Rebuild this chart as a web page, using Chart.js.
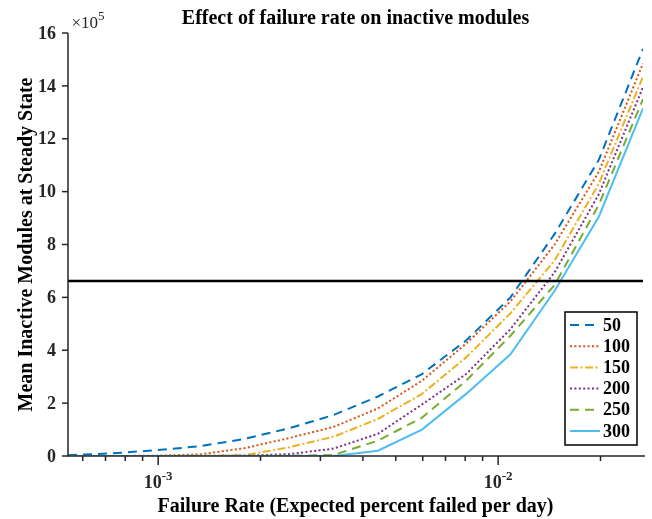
<!DOCTYPE html>
<html>
<head>
<meta charset="utf-8">
<script src="https://cdn.jsdelivr.net/npm/chart.js@4.4.1/dist/chart.umd.min.js"></script>
<style>
  html, body { margin: 0; padding: 0; background: #fff; }
  canvas { display: block; }
</style>
</head>
<body>
<canvas id="failureChart" width="652" height="519"></canvas>
<script>
// failure rate samples (x axis, log scale)
var failureRate = [0.000543, 0.000733, 0.000989, 0.00133, 0.0018, 0.00243, 0.00328,
                   0.00443, 0.00597, 0.00805, 0.01087, 0.01466, 0.01977, 0.02667];

var seriesNames = ['50', '100', '150', '200', '250', '300'];

var inactive50  = [3000, 10000, 22000, 37000, 65000, 105000, 155000, 225000, 310000, 437000, 600000, 840000, 1120000, 1540000];
var inactive100 = [0, 0, 1000, 6000, 30000, 68000, 110000, 180000, 285000, 425000, 585000, 800000, 1075000, 1485000];
var inactive150 = [0, 0, 0, 1000, 3000, 33000, 73000, 140000, 235000, 373000, 540000, 740000, 1030000, 1435000];
var inactive200 = [0, 0, 0, 0, 1000, 7000, 28000, 84000, 195000, 310000, 480000, 695000, 990000, 1395000];
var inactive250 = [0, 0, 0, 0, 0, 1000, 4000, 58000, 145000, 285000, 455000, 647000, 950000, 1350000];
var inactive300 = [0, 0, 0, 0, 0, 0, 0, 20000, 100000, 235000, 385000, 625000, 905000, 1315000];

var thresholdLevel = 662000;

var yTickValues = [0, 200000, 400000, 600000, 800000, 1000000, 1200000, 1400000, 1600000];
var yTickLabels = ['0', '2', '4', '6', '8', '10', '12', '14', '16'];
var xMajorTicks = [0.001, 0.01];
var xMajorExponents = ['-3', '-2'];
var xMinorTicks = [0.0006, 0.0007, 0.0008, 0.0009, 0.002, 0.003, 0.004, 0.005,
                   0.006, 0.007, 0.008, 0.009, 0.02];

var SERIF = '"Liberation Serif", "Times New Roman", serif';
var AXIS_COLOR = '#262626';

var styles = [
    { color: '#0072BD', dash: [9, 6] },
    { color: '#D95319', dash: [2, 2.4] },
    { color: '#EDB120', dash: [8, 2.5, 2, 2.5] },
    { color: '#7E2F8E', dash: [2, 2.4] },
    { color: '#77AC30', dash: [9, 6] },
    { color: '#4DBEEE', dash: [] }
];

function toPoints(values) {
    return values.map(function(v, i) { return { x: failureRate[i], y: v }; });
}

var allSeries = [inactive50, inactive100, inactive150, inactive200, inactive250, inactive300];

var datasets = allSeries.map(function(values, i) {
    return {
        label: seriesNames[i],
        data: toPoints(values),
        borderColor: styles[i].color,
        borderDash: styles[i].dash,
        borderWidth: 2,
        pointRadius: 0,
        fill: false,
        tension: 0,
        order: 10 - i
    };
});

datasets.push({
    label: 'threshold',
    data: [{ x: failureRate[0], y: thresholdLevel }, { x: failureRate[failureRate.length - 1], y: thresholdLevel }],
    borderColor: '#000',
    borderWidth: 2.5,
    pointRadius: 0,
    fill: false,
    order: 0
});

function drawSupLabel(ctx, base, exp, cx, baseY, size, supSize, weight) {
    ctx.font = weight + ' ' + size + 'px ' + SERIF;
    var wBase = ctx.measureText(base).width;
    ctx.font = weight + ' ' + supSize + 'px ' + SERIF;
    var wExp = ctx.measureText(exp).width;
    var x0 = cx - (wBase + wExp) / 2;
    ctx.textAlign = 'left';
    ctx.textBaseline = 'alphabetic';
    ctx.font = weight + ' ' + size + 'px ' + SERIF;
    ctx.fillText(base, x0, baseY);
    ctx.font = weight + ' ' + supSize + 'px ' + SERIF;
    ctx.fillText(exp, x0 + wBase, baseY - size * 0.45);
}

var axesPlugin = {
    id: 'matlabAxes',
    afterDraw: function(chart) {
        var ctx = chart.ctx;
        var area = chart.chartArea;
        var xs = chart.scales.x;
        var ys = chart.scales.y;

        ctx.save();
        ctx.strokeStyle = AXIS_COLOR;
        ctx.fillStyle = AXIS_COLOR;
        ctx.lineWidth = 1.5;

        // axis lines
        ctx.beginPath();
        ctx.moveTo(area.left, area.top);
        ctx.lineTo(area.left, area.bottom);
        ctx.lineTo(area.right + 2, area.bottom);
        ctx.stroke();

        // y ticks + labels
        ctx.font = 'bold 18px ' + SERIF;
        ctx.textAlign = 'right';
        ctx.textBaseline = 'middle';
        yTickValues.forEach(function(v, i) {
            var y = ys.getPixelForValue(v);
            ctx.beginPath();
            ctx.moveTo(area.left, y);
            ctx.lineTo(area.left - 6, y);
            ctx.stroke();
            ctx.fillText(yTickLabels[i], area.left - 12, y + 1);
        });

        // x ticks
        xMinorTicks.forEach(function(v) {
            var x = xs.getPixelForValue(v);
            ctx.beginPath();
            ctx.moveTo(x, area.bottom);
            ctx.lineTo(x, area.bottom + 5);
            ctx.stroke();
        });
        xMajorTicks.forEach(function(v, i) {
            var x = xs.getPixelForValue(v);
            ctx.beginPath();
            ctx.moveTo(x, area.bottom);
            ctx.lineTo(x, area.bottom + 9);
            ctx.stroke();
            ctx.fillStyle = AXIS_COLOR;
            drawSupLabel(ctx, '10', xMajorExponents[i], x, area.bottom + 32, 18, 13, 'bold');
        });

        // exponent multiplier
        drawSupLabel(ctx, '\u00d710', '5', area.left + 20, area.top - 5, 17, 13, 'normal');

        // titles
        var cx = (area.left + area.right) / 2;
        ctx.fillStyle = '#000';
        ctx.textAlign = 'center';
        ctx.textBaseline = 'alphabetic';
        ctx.font = 'bold 20px ' + SERIF;
        ctx.fillText('Effect of failure rate on inactive modules', cx, 24);
        ctx.fillText('Failure Rate (Expected percent failed per day)', cx, 512);

        ctx.save();
        ctx.translate(32, (area.top + area.bottom) / 2);
        ctx.rotate(-Math.PI / 2);
        ctx.fillText('Mean Inactive Modules at Steady State', 0, 0);
        ctx.restore();

        // legend
        var boxW = 72, boxH = 133;
        var bx = area.right - 6 - boxW;
        var by = area.bottom - 11 - boxH;
        ctx.fillStyle = '#fff';
        ctx.fillRect(bx, by, boxW, boxH);
        ctx.strokeStyle = '#000';
        ctx.lineWidth = 1.5;
        ctx.strokeRect(bx, by, boxW, boxH);

        ctx.font = 'bold 18px ' + SERIF;
        ctx.textAlign = 'left';
        ctx.textBaseline = 'middle';
        seriesNames.forEach(function(name, i) {
            var ry = by + 13 + i * 21.2;
            ctx.strokeStyle = styles[i].color;
            ctx.lineWidth = 2;
            ctx.setLineDash(styles[i].dash);
            ctx.beginPath();
            ctx.moveTo(bx + 5, ry);
            ctx.lineTo(bx + 35, ry);
            ctx.stroke();
            ctx.setLineDash([]);
            ctx.fillStyle = '#000';
            ctx.fillText(name, bx + 38, ry + 1);
        });

        ctx.restore();
    }
};

var ctx = document.getElementById('failureChart').getContext('2d');
new Chart(ctx, {
    type: 'line',
    data: { datasets: datasets },
    options: {
        responsive: false,
        animation: false,
        devicePixelRatio: 1,
        layout: { padding: { left: 68, right: 9, top: 33, bottom: 63 } },
        plugins: {
            legend: { display: false },
            tooltip: { enabled: false },
            title: { display: false }
        },
        scales: {
            x: {
                type: 'logarithmic',
                display: false,
                min: failureRate[0],
                max: failureRate[failureRate.length - 1]
            },
            y: {
                type: 'linear',
                display: false,
                min: 0,
                max: 1600000
            }
        }
    },
    plugins: [axesPlugin]
});
</script>
</body>
</html>
